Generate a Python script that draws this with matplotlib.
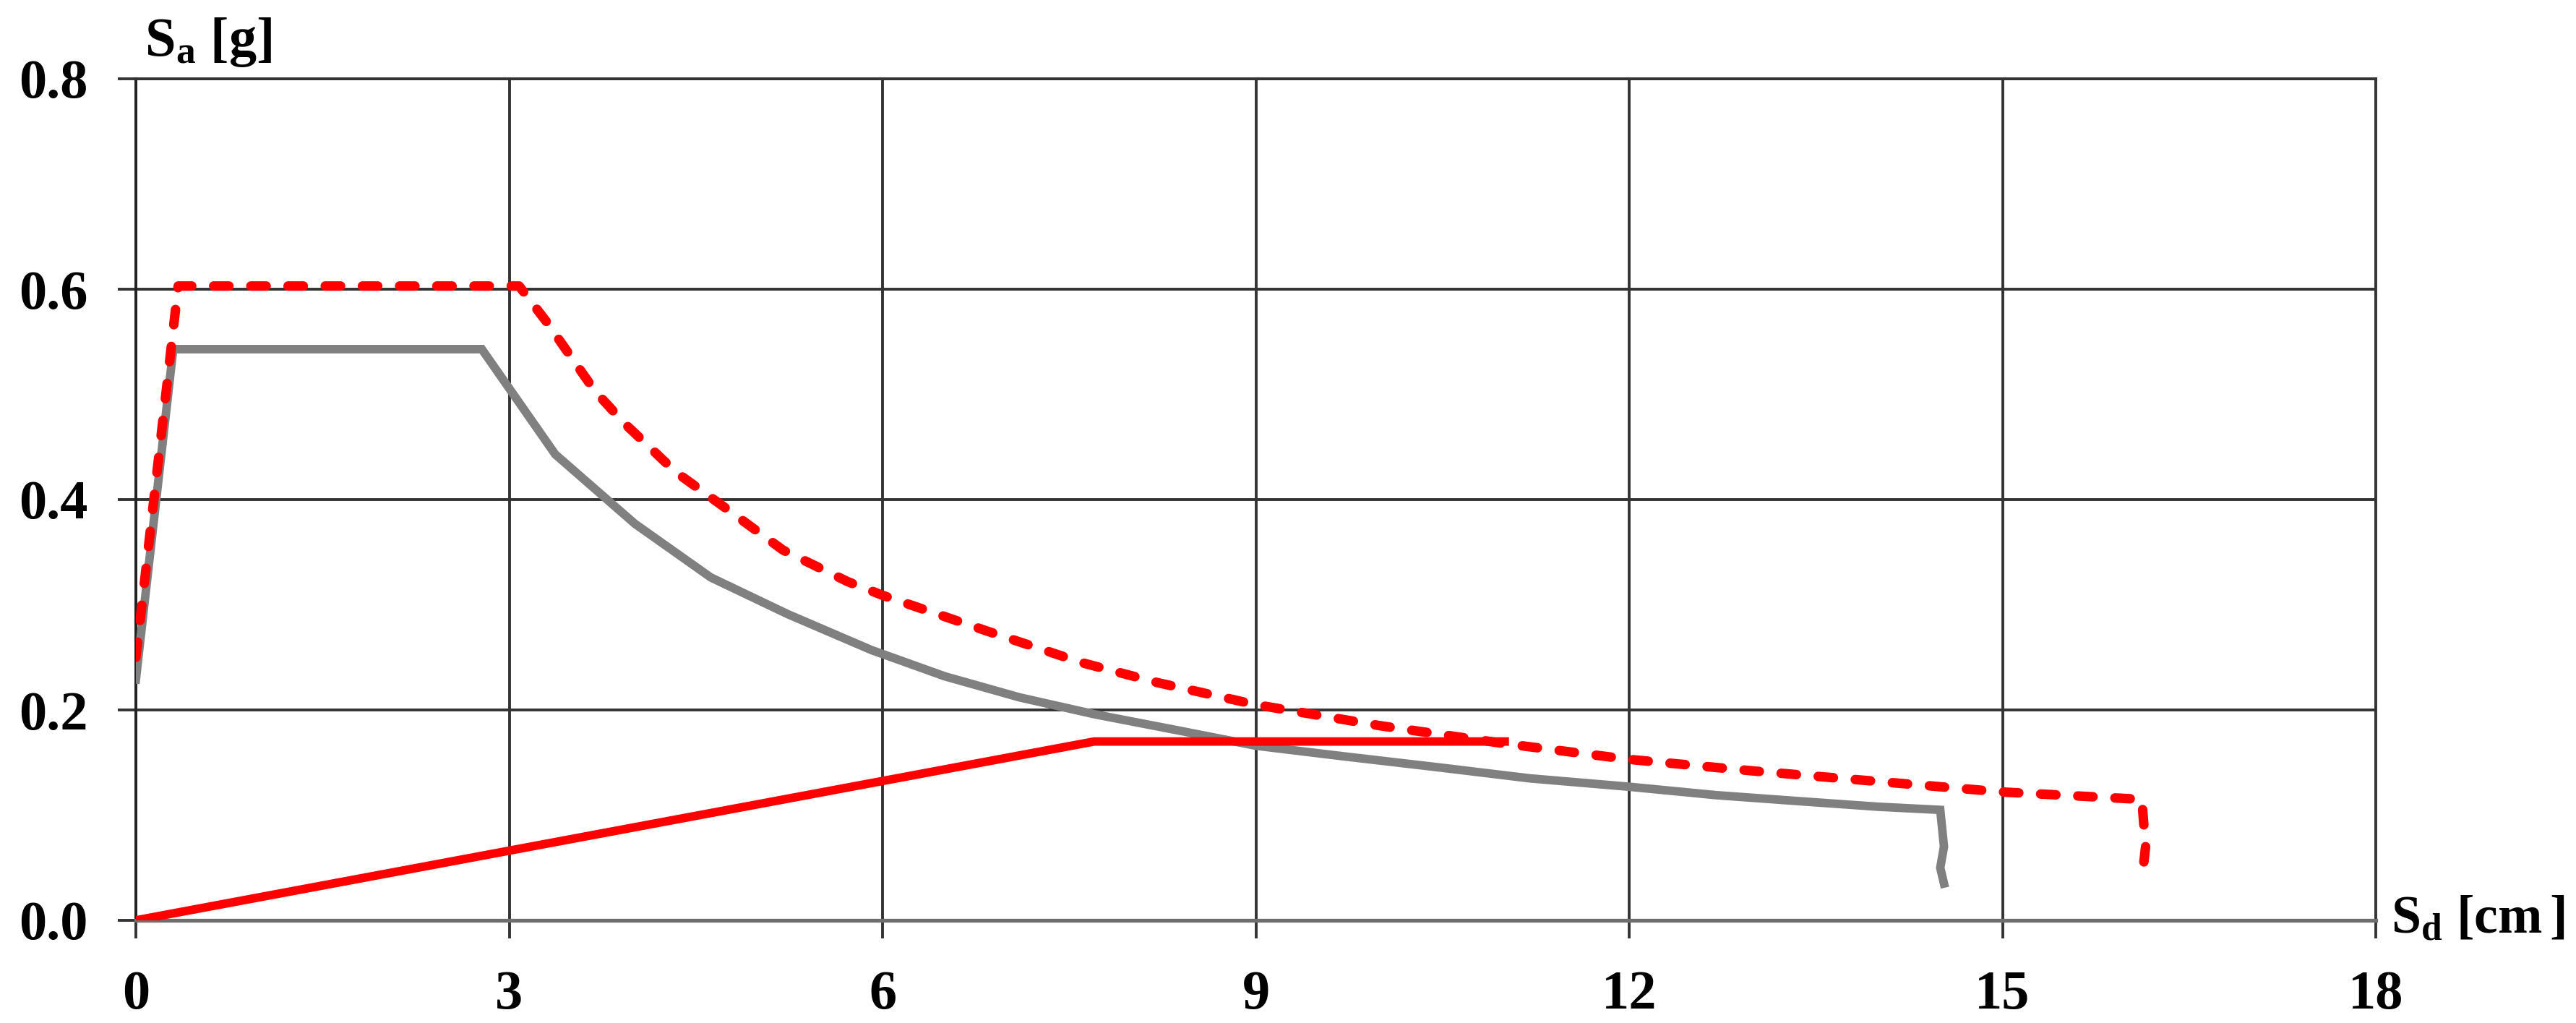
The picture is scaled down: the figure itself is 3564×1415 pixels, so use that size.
import matplotlib
matplotlib.use("Agg")
import matplotlib.pyplot as plt

# curba de capacitate (gri)
sd_cap = [0.0, 0.30, 2.78, 3.37, 4.01, 4.62, 5.24, 5.91, 6.50, 7.10, 7.70, 8.40,
          9.00, 9.70, 10.50, 11.20, 12.00, 12.70, 13.40, 14.00, 14.50, 14.53, 14.50, 14.53]
sa_cap = [0.229, 0.543, 0.543, 0.443, 0.377, 0.326, 0.291, 0.257, 0.232, 0.212, 0.196, 0.180,
          0.166, 0.156, 0.145, 0.135, 0.127, 0.119, 0.113, 0.108, 0.105, 0.070, 0.050, 0.035]

# spectrul de cerinta (rosu punctat)
sd_dem = [0.0, 0.34, 3.08, 3.30, 3.69, 3.93, 4.34, 4.68, 5.20, 5.72, 6.00, 6.84, 7.60,
          8.21, 9.00, 10.00, 11.00, 12.00, 13.00, 14.00, 15.00, 16.12, 16.15, 16.12]
sa_dem = [0.250, 0.603, 0.603, 0.569, 0.503, 0.472, 0.426, 0.397, 0.352, 0.322, 0.309, 0.275, 0.245,
          0.226, 0.205, 0.185, 0.168, 0.153, 0.142, 0.132, 0.122, 0.115, 0.070, 0.038]

# curba biliniara (rosu plin)
sd_bil = [0.0, 7.70, 11.00]
sa_bil = [0.0, 0.170, 0.170]

x_ticks = [0, 3, 6, 9, 12, 15, 18]
y_ticks = [0.0, 0.2, 0.4, 0.6, 0.8]

plt.rcParams['font.family'] = ['Liberation Serif', 'DejaVu Serif']
plt.rcParams['font.weight'] = 'bold'
plt.rcParams['mathtext.fontset'] = 'custom'
plt.rcParams['mathtext.rm'] = 'Liberation Serif:bold'
plt.rcParams['mathtext.it'] = 'Liberation Serif:bold'
plt.rcParams['mathtext.bf'] = 'Liberation Serif:bold'

fig = plt.figure(figsize=(35.64, 14.15), dpi=100)
ax = fig.add_axes([188 / 3564, 1 - 1273 / 1415, (3287 - 188) / 3564, (1273 - 109) / 1415])

grid_col = '#333333'
ax.set_xlim(0, 18)
ax.set_ylim(0, 0.8)
ax.set_xticks(x_ticks)
ax.set_yticks(y_ticks)
ax.set_xticklabels([str(t) for t in x_ticks])
ax.set_yticklabels(["%.1f" % t for t in y_ticks])
ax.grid(True, color=grid_col, linewidth=2.8)
ax.set_axisbelow(True)

ax.tick_params(axis='both', direction='out', length=18, width=2.8, color=grid_col,
               labelsize=55, pad=30)
ax.tick_params(axis='x', pad=32)

for s in ['top', 'right']:
    ax.spines[s].set_color(grid_col)
    ax.spines[s].set_linewidth(2.8)
ax.spines['left'].set_color('#222222')
ax.spines['left'].set_linewidth(2.8)
ax.spines['bottom'].set_color('#6e6e6e')
ax.spines['bottom'].set_linewidth(3.8)

ax.plot(sd_cap, sa_cap, color='#808080', linewidth=8.5, solid_joinstyle='miter', zorder=3)
ax.plot(sd_bil, sa_bil, color='#ff0000', linewidth=8.5, zorder=4)
ax.plot(sd_dem, sa_dem, color='#ff0000', linewidth=9.5, linestyle=(0, (1.6, 2.3)),
        dash_capstyle='round', zorder=5)

fig.text(200 / 3564, 1 - 77 / 1415, r'$\mathrm{S_a}$ [g]', fontsize=55,
         fontweight='bold', ha='left', va='baseline')
fig.text(3308 / 3564, 1 - 1290 / 1415, r'$\mathrm{S_d}$ [cm$\,$]', fontsize=53,
         fontweight='bold', ha='left', va='baseline')

fig.savefig('out.png', dpi=100)
